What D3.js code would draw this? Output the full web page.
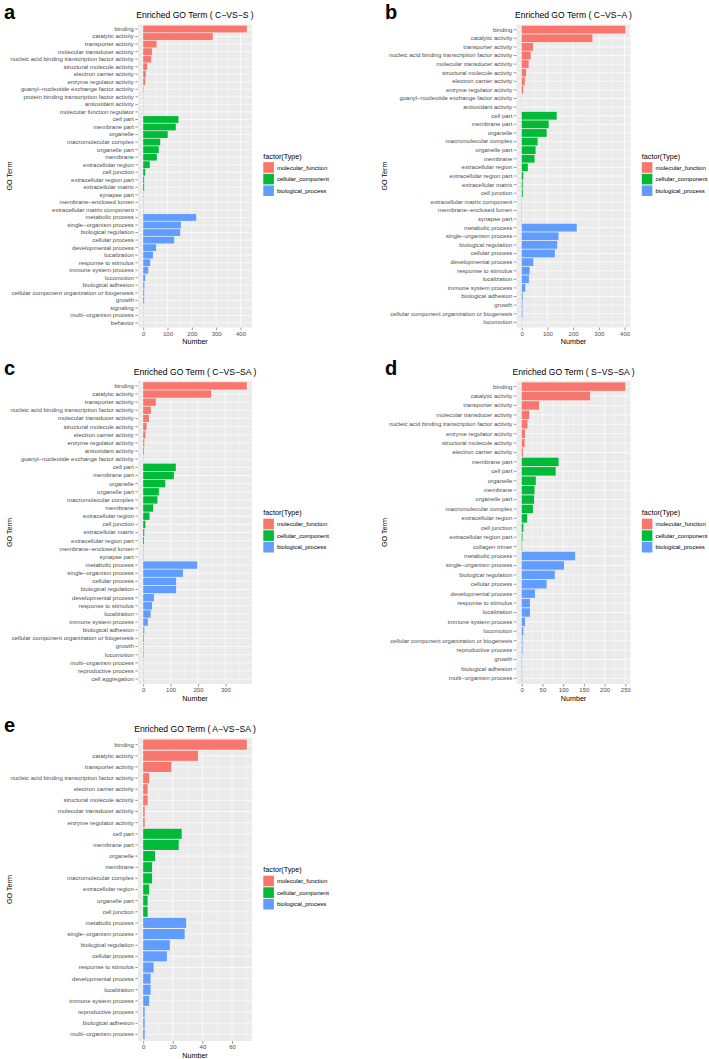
<!DOCTYPE html>
<html>
<head>
<meta charset="utf-8">
<script src="https://cdn.jsdelivr.net/npm/d3@7"></script>
<style>
  body { margin: 0; background: #fff; }
  svg { font-family: "Liberation Sans", Arial, Helvetica, sans-serif; }
</style>
</head>
<body>
<svg width="709" height="1059"></svg>
<script>
var typeNames = ["molecular_function", "cellular_component", "biological_process"];
var typeColors = ["#F8766D", "#00BA38", "#619CFF"];

// a : C-VS-S
var termsA = ["binding", "catalytic activity", "transporter activity", "molecular transducer activity",
  "nucleic acid binding transcription factor activity", "structural molecule activity", "electron carrier activity",
  "enzyme regulator activity", "guanyl−nucleotide exchange factor activity", "protein binding transcription factor activity",
  "antioxidant activity", "molecular function regulator",
  "cell part", "membrane part", "organelle", "macromolecular complex", "organelle part", "membrane",
  "extracellular region", "cell junction", "extracellular region part", "extracellular matrix", "synapse part",
  "membrane−enclosed lumen", "extracellular matrix component",
  "metabolic process", "single−organism process", "biological regulation", "cellular process", "developmental process",
  "localization", "response to stimulus", "immune system process", "locomotion", "biological adhesion",
  "cellular component organization or biogenesis", "growth", "signaling", "multi−organism process", "behavior"];
var valuesA = [426, 286, 55, 36, 33, 16, 11, 8, 2, 1, 1, 1,
  145, 134, 101, 70, 64, 56, 27, 8, 4, 4, 1, 1, 1,
  218, 155, 152, 127, 53, 40, 29, 21, 8, 5, 4, 4, 1, 1, 1];
var typeCountsA = [12, 13, 15];
var ticksA = [0, 100, 200, 300, 400];

// b : C-VS-A
var termsB = ["binding", "catalytic activity", "transporter activity", "nucleic acid binding transcription factor activity",
  "molecular transducer activity", "structural molecule activity", "electron carrier activity", "enzyme regulator activity",
  "guanyl−nucleotide exchange factor activity", "antioxidant activity",
  "cell part", "membrane part", "organelle", "macromolecular complex", "organelle part", "membrane",
  "extracellular region", "extracellular region part", "extracellular matrix", "cell junction",
  "extracellular matrix component", "membrane−enclosed lumen", "synapse part",
  "metabolic process", "single−organism process", "biological regulation", "cellular process", "developmental process",
  "response to stimulus", "localization", "immune system process", "biological adhesion", "growth",
  "cellular component organization or biogenesis", "locomotion"];
var valuesB = [403, 275, 44, 35, 27, 17, 12, 6, 1, 1,
  136, 105, 97, 62, 54, 50, 24, 6, 4, 4, 1, 1, 1,
  214, 143, 138, 129, 45, 31, 28, 14, 4, 3, 3, 1];
var typeCountsB = [10, 13, 12];
var ticksB = [0, 100, 200, 300, 400];

// c : C-VS-SA
var termsC = ["binding", "catalytic activity", "transporter activity", "nucleic acid binding transcription factor activity",
  "molecular transducer activity", "structural molecule activity", "electron carrier activity", "enzyme regulator activity",
  "antioxidant activity", "guanyl−nucleotide exchange factor activity",
  "cell part", "membrane part", "organelle", "organelle part", "macromolecular complex", "membrane",
  "extracellular region", "cell junction", "extracellular matrix", "extracellular region part",
  "membrane−enclosed lumen", "synapse part",
  "metabolic process", "single−organism process", "cellular process", "biological regulation", "developmental process",
  "response to stimulus", "localization", "immune system process", "biological adhesion",
  "cellular component organization or biogenesis", "growth", "locomotion", "multi−organism process",
  "reproductive process", "cell aggregation"];
var valuesC = [378, 248, 46, 28, 21, 12, 8, 4, 3, 1,
  119, 112, 80, 57, 52, 36, 23, 8, 4, 3, 1, 1,
  197, 145, 120, 120, 39, 32, 27, 17, 4, 3, 2, 2, 1, 1, 1];
var typeCountsC = [10, 12, 15];
var ticksC = [0, 100, 200, 300];

// d : S-VS-SA
var termsD = ["binding", "catalytic activity", "transporter activity", "molecular transducer activity",
  "nucleic acid binding transcription factor activity", "enzyme regulator activity", "structural molecule activity",
  "electron carrier activity",
  "membrane part", "cell part", "organelle", "membrane", "organelle part", "macromolecular complex",
  "extracellular region", "cell junction", "extracellular region part", "collagen trimer",
  "metabolic process", "single−organism process", "biological regulation", "cellular process", "developmental process",
  "response to stimulus", "localization", "immune system process", "locomotion",
  "cellular component organization or biogenesis", "reproductive process", "growth", "biological adhesion",
  "multi−organism process"];
var valuesD = [250, 165, 42, 18, 14, 8, 7, 3,
  89, 82, 34, 31, 30, 27, 13, 4, 2, 1,
  129, 102, 80, 60, 32, 20, 20, 8, 4, 2, 2, 1, 1, 1];
var typeCountsD = [8, 10, 14];
var ticksD = [0, 50, 100, 150, 200, 250];

// e : A-VS-SA
var termsE = ["binding", "catalytic activity", "transporter activity", "nucleic acid binding transcription factor activity",
  "electron carrier activity", "structural molecule activity", "molecular transducer activity", "enzyme regulator activity",
  "cell part", "membrane part", "organelle", "membrane", "macromolecular complex", "extracellular region",
  "organelle part", "cell junction",
  "metabolic process", "single−organism process", "biological regulation", "cellular process", "response to stimulus",
  "developmental process", "localization", "immune system process", "reproductive process", "biological adhesion",
  "multi−organism process"];
var valuesE = [70, 37, 19, 4, 3, 3, 1, 1,
  26, 24, 8, 6, 6, 4, 3, 3,
  29, 28, 18, 16, 7, 5, 5, 4, 1, 1, 1];
var typeCountsE = [8, 8, 11];
var ticksE = [0, 20, 40, 60];

var svg = d3.select("svg");

// layout
var colX = [138, 516.5];
var colLetterX = [4, 385];
var colAxisTitleX = [9, 384];
var panelW = 114;
var rowTop = [24.5, 381, 738];
var panelH = 303;

var panels = [
  { letter: "a", name: "C−VS−S", terms: termsA, values: valuesA, counts: typeCountsA, ticks: ticksA, col: 0, row: 0 },
  { letter: "b", name: "C−VS−A", terms: termsB, values: valuesB, counts: typeCountsB, ticks: ticksB, col: 1, row: 0 },
  { letter: "c", name: "C−VS−SA", terms: termsC, values: valuesC, counts: typeCountsC, ticks: ticksC, col: 0, row: 1 },
  { letter: "d", name: "S−VS−SA", terms: termsD, values: valuesD, counts: typeCountsD, ticks: ticksD, col: 1, row: 1 },
  { letter: "e", name: "A−VS−SA", terms: termsE, values: valuesE, counts: typeCountsE, ticks: ticksE, col: 0, row: 2 }
];

panels.forEach(drawPanel);

function drawPanel(p) {
  var x0 = colX[p.col], y0 = rowTop[p.row];
  var g = svg.append("g").attr("class", "panel-" + p.letter);
  var max = d3.max(p.values);

  var x = d3.scaleLinear().domain([-0.05 * max, 1.05 * max]).range([x0, x0 + panelW]);
  var y = d3.scaleBand().domain(p.terms).range([y0, y0 + panelH])
    .paddingInner(0.1).paddingOuter(0.15);

  // type index of each term
  var types = [];
  p.counts.forEach(function (c, i) { for (var k = 0; k < c; k++) types.push(i); });

  // panel background
  g.append("rect").attr("x", x0).attr("y", y0).attr("width", panelW).attr("height", panelH)
    .attr("fill", "#EBEBEB");

  // minor grid (half way between the breaks)
  var step = p.ticks[1] - p.ticks[0];
  var minor = [];
  for (var v = p.ticks[0] - step / 2; v <= x.domain()[1]; v += step) {
    if (v >= x.domain()[0]) minor.push(v);
  }
  g.selectAll(".minor").data(minor).enter().append("line")
    .attr("x1", d => x(d)).attr("x2", d => x(d))
    .attr("y1", y0).attr("y2", y0 + panelH)
    .attr("stroke", "#fff").attr("stroke-width", 0.35);

  g.selectAll(".major").data(p.ticks).enter().append("line")
    .attr("x1", d => x(d)).attr("x2", d => x(d))
    .attr("y1", y0).attr("y2", y0 + panelH)
    .attr("stroke", "#fff").attr("stroke-width", 0.7);

  g.selectAll(".hgrid").data(p.terms).enter().append("line")
    .attr("x1", x0).attr("x2", x0 + panelW)
    .attr("y1", d => y(d) + y.bandwidth() / 2).attr("y2", d => y(d) + y.bandwidth() / 2)
    .attr("stroke", "#fff").attr("stroke-width", 0.7);

  // bars
  g.selectAll(".bar").data(p.terms).enter().append("rect")
    .attr("x", x(0))
    .attr("y", d => y(d))
    .attr("width", (d, i) => x(p.values[i]) - x(0))
    .attr("height", y.bandwidth())
    .attr("fill", (d, i) => typeColors[types[i]]);

  // axes
  var gx = g.append("g").attr("transform", "translate(0," + (y0 + panelH) + ")")
    .call(d3.axisBottom(x).tickValues(p.ticks).tickSize(2.7).tickPadding(1.2));
  var gy = g.append("g").attr("transform", "translate(" + x0 + ",0)")
    .call(d3.axisLeft(y).tickSize(2.7).tickPadding(1.5));
  [gx, gy].forEach(function (a) {
    a.select(".domain").remove();
    a.selectAll(".tick line").attr("stroke", "#333").attr("stroke-width", 0.5);
    a.selectAll(".tick text").attr("fill", "#4D4D4D").style("font-size", "6px")
      .style("font-family", "'Liberation Sans', Arial, sans-serif");
  });

  // title
  g.append("text").attr("x", x0 + panelW / 2).attr("y", y0 - 6.5)
    .attr("text-anchor", "middle").style("font-size", "8.6px")
    .text("Enriched GO Term ( " + p.name + " )");

  // axis titles
  g.append("text").attr("x", x0 + panelW / 2).attr("y", y0 + panelH + 16.5)
    .attr("text-anchor", "middle").style("font-size", "7.2px").text("Number");
  g.append("text")
    .attr("transform", "translate(" + colAxisTitleX[p.col] + "," + (y0 + panelH / 2) + ") rotate(-90)")
    .attr("text-anchor", "middle").attr("dy", "0.35em").style("font-size", "7.2px").text("GO Term");

  // panel letter
  g.append("text").attr("x", colLetterX[p.col]).attr("y", y0 - 6)
    .style("font-size", "20px").style("font-weight", "bold").text(p.letter);

  // legend
  var lx = x0 + panelW + 11.3, cy = y0 + panelH / 2;
  var lg = g.append("g");
  lg.append("text").attr("x", lx).attr("y", cy - 17.5).style("font-size", "7.2px").text("factor(Type)");
  var items = lg.selectAll(".key").data(typeNames).enter().append("g")
    .attr("transform", (d, i) => "translate(" + lx + "," + (cy - 8.5 + i * 11.6) + ")");
  items.append("rect").attr("x", 0).attr("y", -5.3).attr("width", 10.6).attr("height", 10.6)
    .attr("fill", (d, i) => typeColors[i]);
  items.append("text").attr("x", 13.6).attr("y", 2.1).style("font-size", "6px").attr("fill", "#000")
    .text(d => d);
}
</script>
</body>
</html>
